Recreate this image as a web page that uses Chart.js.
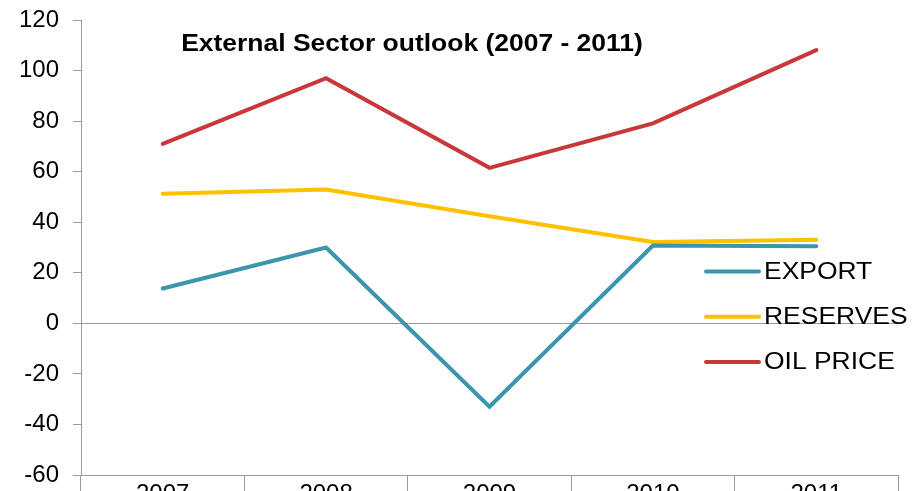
<!DOCTYPE html>
<html>
<head>
<meta charset="utf-8">
<script src="https://cdn.jsdelivr.net/npm/chart.js@4/dist/chart.umd.min.js"></script>
<style>
  html, body { margin: 0; padding: 0; background: #ffffff; overflow: hidden; }
  #wrap { width: 912px; height: 491px; position: relative; }
</style>
</head>
<body>
<div id="wrap"><canvas id="c" width="912" height="491"></canvas></div>
<script>
const titleText = 'External Sector outlook (2007 - 2011)';
const years = ['2007', '2008', '2009', '2010', '2011'];
const seriesNames = ['EXPORT', 'RESERVES', 'OIL PRICE'];
const exportValues = [13.8, 30.0, -33.0, 30.8, 30.5];
const reservesValues = [51.3, 52.9, 42.4, 32.2, 33.1];
const oilPriceValues = [71.0, 97.0, 61.5, 79.1, 108.1];
const yTicks = { min: -60, max: 120, step: 20 };

const colors = ['#3B95AD', '#FFC000', '#C8373A'];
const FONT = "'Liberation Sans', Arial, sans-serif";
const STRETCH = 1.15;

const overlayPlugin = {
  id: 'overlay',
  afterDraw(chart) {
    const ctx = chart.ctx;
    ctx.save();
    // title (slightly wide lettering as in the reference)
    ctx.save();
    ctx.font = 'bold 23px ' + FONT;
    ctx.fillStyle = '#000000';
    ctx.textAlign = 'center';
    ctx.textBaseline = 'middle';
    ctx.translate(412, 45);
    ctx.scale(STRETCH, 1);
    ctx.fillText(titleText, 0, 0);
    ctx.restore();
    // legend
    chart.data.datasets.forEach((ds, i) => {
      const y = 271.5 + i * 45.3;
      ctx.strokeStyle = ds.borderColor;
      ctx.lineWidth = 4;
      ctx.lineCap = 'round';
      ctx.beginPath();
      ctx.moveTo(706, y);
      ctx.lineTo(759, y);
      ctx.stroke();
      ctx.save();
      ctx.font = '23px ' + FONT;
      ctx.textAlign = 'left';
      ctx.textBaseline = 'middle';
      ctx.fillStyle = '#000000';
      ctx.translate(764, y + 1);
      ctx.scale(STRETCH, 1);
      ctx.fillText(ds.label, 0, 0);
      ctx.restore();
    });
    ctx.restore();
  }
};

new Chart(document.getElementById('c'), {
  type: 'line',
  data: {
    labels: years,
    datasets: [
      { label: seriesNames[0], data: exportValues, borderColor: colors[0], backgroundColor: colors[0] },
      { label: seriesNames[1], data: reservesValues, borderColor: colors[1], backgroundColor: colors[1] },
      { label: seriesNames[2], data: oilPriceValues, borderColor: colors[2], backgroundColor: colors[2] }
    ]
  },
  options: {
    responsive: false,
    animation: false,
    devicePixelRatio: 1,
    elements: {
      line: { borderWidth: 4, tension: 0, borderCapStyle: 'round', borderJoinStyle: 'miter' },
      point: { radius: 0, hoverRadius: 0 }
    },
    layout: { padding: { top: 20, right: 14, left: 0, bottom: 0 } },
    plugins: {
      legend: { display: false },
      title: { display: false },
      tooltip: { enabled: false }
    },
    scales: {
      x: {
        offset: true,
        grid: { offset: true, drawOnChartArea: false, tickLength: 20, color: '#9a9a9a', tickColor: '#9a9a9a' },
        border: { color: '#9a9a9a', width: 1 },
        ticks: { font: { family: FONT, size: 24 }, color: '#000000', padding: -15, maxRotation: 0 },
        afterFit(scale) { scale.height = 16; scale.paddingLeft = 0; scale.paddingRight = 0; }
      },
      y: {
        min: yTicks.min,
        max: yTicks.max,
        ticks: { stepSize: yTicks.step, font: { family: FONT, size: 24 }, color: '#000000', padding: 14 },
        grid: {
          tickLength: 8,
          color: (c) => (c.tick && c.tick.value === 0 ? '#9a9a9a' : 'rgba(0,0,0,0)'),
          tickColor: '#9a9a9a'
        },
        border: { color: '#9a9a9a', width: 1 },
        afterFit(scale) { scale.width = 81; scale.paddingTop = 0; scale.paddingBottom = 0; }
      }
    }
  },
  plugins: [overlayPlugin]
});
</script>
</body>
</html>
